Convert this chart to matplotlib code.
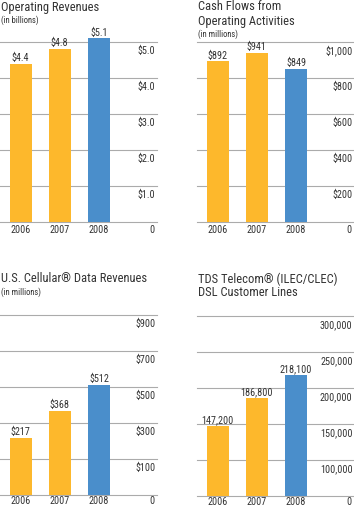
import matplotlib
matplotlib.use("Agg")
import matplotlib.pyplot as plt
from matplotlib import font_manager

# data
years = ["2006", "2007", "2008"]

op_rev = [4.4, 4.8, 5.1]
op_rev_labels = ["$4.4", "$4.8", "$5.1"]
op_rev_ticks = [1, 2, 3, 4, 5]
op_rev_ticklabels = ["$1.0", "$2.0", "$3.0", "$4.0", "$5.0"]

cash = [892, 941, 849]
cash_labels = ["$892", "$941", "$849"]
cash_ticks = [200, 400, 600, 800, 1000]
cash_ticklabels = ["$200", "$400", "$600", "$800", "$1,000"]

data_rev = [217, 368, 512]
data_rev_labels = ["$217", "$368", "$512"]
data_rev_ticks = [100, 300, 500, 700, 900]
data_rev_ticklabels = ["$100", "$300", "$500", "$700", "$900"]

dsl = [147200, 186800, 218100]
dsl_labels = ["147,200", "186,800", "218,100"]
dsl_ticks = [100000, 150000, 200000, 250000, 300000]
dsl_ticklabels = ["100,000", "150,000", "200,000", "250,000", "300,000"]

# colours
orange = "#FDB82C"
blue = "#4A8ECB"
grid_col = "#ABABAB"
text_col = "#333333"

plt.rcParams['text.parse_math'] = False
names = {f.name for f in font_manager.fontManager.ttflist}
fam = [f for f in ["Liberation Sans Narrow", "Roboto Condensed", "Liberation Sans", "DejaVu Sans"] if f in names]
plt.rcParams['font.family'] = fam

W, H = 354, 509
fig = plt.figure(figsize=(W / 100, H / 100), dpi=100)


def panel(left, right, baseline, top, ppu, ymin, values, vlabels, ticks, ticklabels,
          title, subtitle, title_y, year_gap):
    # place the axes in pixel terms
    ax = fig.add_axes([left / W, (H - baseline) / H, (right - left) / W, (baseline - top) / H])
    ymax = ymin + (baseline - top) / ppu
    ax.set_ylim(ymin, ymax)
    spacing = 39.3
    first = 20.5
    ax.set_xlim(-first / spacing, (right - left - first) / spacing)
    ax.axis("off")

    # gridlines, including the baseline
    for t in [ymin] + ticks:
        ax.axhline(t, color=grid_col, linewidth=0.8, zorder=0, clip_on=False)

    colors = [orange, orange, blue]
    xs = range(len(values))
    heights = [v - ymin for v in values]
    ax.bar(xs, heights, bottom=ymin, width=22 / spacing, color=colors, zorder=2)

    for x, v, lab in zip(xs, values, vlabels):
        ax.annotate(lab, (x, v), xytext=(0, 2), textcoords="offset points",
                    ha="center", va="baseline", fontsize=7.3, color=text_col)
    # year labels and the zero label under the baseline
    for x, yr in zip(xs, years):
        ax.annotate(yr, (x, ymin), xytext=(0, -year_gap), textcoords="offset points",
                    ha="center", va="center", fontsize=7.3, color=text_col)
    ax.annotate("0", (1.0, ymin), xycoords=("axes fraction", "data"), xytext=(-2, -year_gap),
                textcoords="offset points", ha="right", va="center", fontsize=7.3, color=text_col)

    # right hand tick labels sit just under each gridline
    for t, lab in zip(ticks, ticklabels):
        ax.annotate(lab, (1.0, t), xycoords=("axes fraction", "data"), xytext=(-1, -6.5),
                    textcoords="offset points", ha="right", va="center", fontsize=7.3, color=text_col)

    # titles
    tx = (left + 1) / W
    lines = title.split("\n")
    y0 = 1 - title_y / H
    for i, ln in enumerate(lines):
        fig.text(tx, y0 - i * 14 / H, ln, fontsize=9, color=text_col, ha="left", va="center")
    if subtitle:
        fig.text(tx, y0 - len(lines) * 14 / H + 1 / H, subtitle, fontsize=6.2, color=text_col,
                 ha="left", va="center")
    return ax


panel(0, 157, 222, 30, 36, 0, op_rev, op_rev_labels, op_rev_ticks, op_rev_ticklabels,
      "Operating Revenues", "(in billions)", 7, 6)
panel(197, 354, 222, 30, 0.18, 0, cash, cash_labels, cash_ticks, cash_ticklabels,
      "Cash Flows from\nOperating Activities", "(in millions)", 7, 6)
panel(0, 157, 495, 300, 0.18, -100, data_rev, data_rev_labels, data_rev_ticks, data_rev_ticklabels,
      "U.S. Cellular® Data Revenues", "(in millions)", 279, 4.6)
panel(197, 354, 496, 300, 0.00072, 50000, dsl, dsl_labels, dsl_ticks, dsl_ticklabels,
      "TDS Telecom® (ILEC/CLEC)\nDSL Customer Lines", None, 279, 4.6)

plt.savefig("out.png", dpi=100)
